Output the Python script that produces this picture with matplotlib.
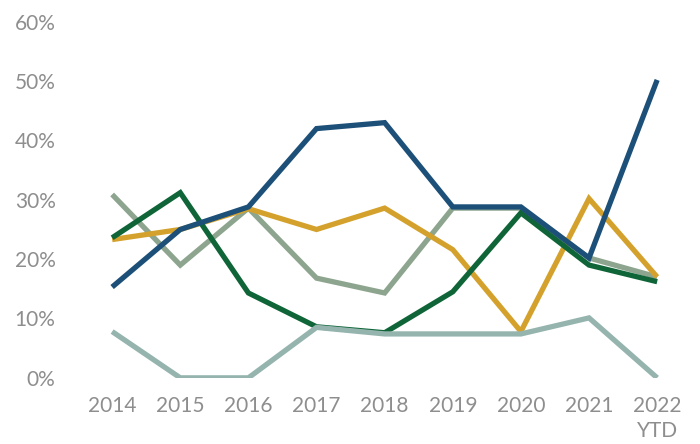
import numpy as np
import matplotlib.pyplot as plt

years = ["2014", "2015", "2016", "2017", "2018", "2019", "2020", "2021", "2022\nYTD"]

# share of total per year (%)
sage = [30.9, 19.0, 28.6, 16.8, 14.3, 28.6, 28.6, 20.2, 17.0]
gold = [23.3, 25.0, 28.5, 25.0, 28.6, 21.6, 7.8, 30.2, 17.0]
green = [23.6, 31.2, 14.3, 8.6, 7.6, 14.5, 27.8, 19.0, 16.2]
teal = [7.8, 0.0, 0.0, 8.5, 7.4, 7.4, 7.4, 10.1, 0.0]
blue = [15.3, 25.0, 28.8, 42.0, 43.0, 28.8, 28.8, 20.2, 50.2]

x = np.arange(len(years))

fig = plt.figure(figsize=(7, 4.44), dpi=100)
ax = fig.add_axes([0.131, 0.149, 0.837, 0.802])

style = dict(lw=3.8, solid_joinstyle="miter", solid_capstyle="butt")
ax.plot(x, sage, color="#8da58e", **style)
ax.plot(x, gold, color="#d4a22c", **style)
ax.plot(x, green, color="#0f6538", **style)
ax.plot(x, teal, color="#95b4ae", **style)
ax.plot(x, blue, color="#1d5079", **style)

ax.set_xlim(-0.3, 8.3)
ax.set_ylim(0, 60)
ax.set_yticks(range(0, 61, 10))
ax.set_yticklabels([f"{v}%" for v in range(0, 61, 10)])
ax.set_xticks(x)
ax.set_xticklabels(years, linespacing=1.3)

for s in ax.spines.values():
    s.set_visible(False)
ax.tick_params(axis="y", length=0, pad=26, labelsize=15, labelcolor="#8e8e8e")
ax.tick_params(axis="x", length=0, pad=13, labelsize=15, labelcolor="#8e8e8e")
for t in ax.get_xticklabels() + ax.get_yticklabels():
    t.set_family("Lato")

fig.savefig("out.png")
